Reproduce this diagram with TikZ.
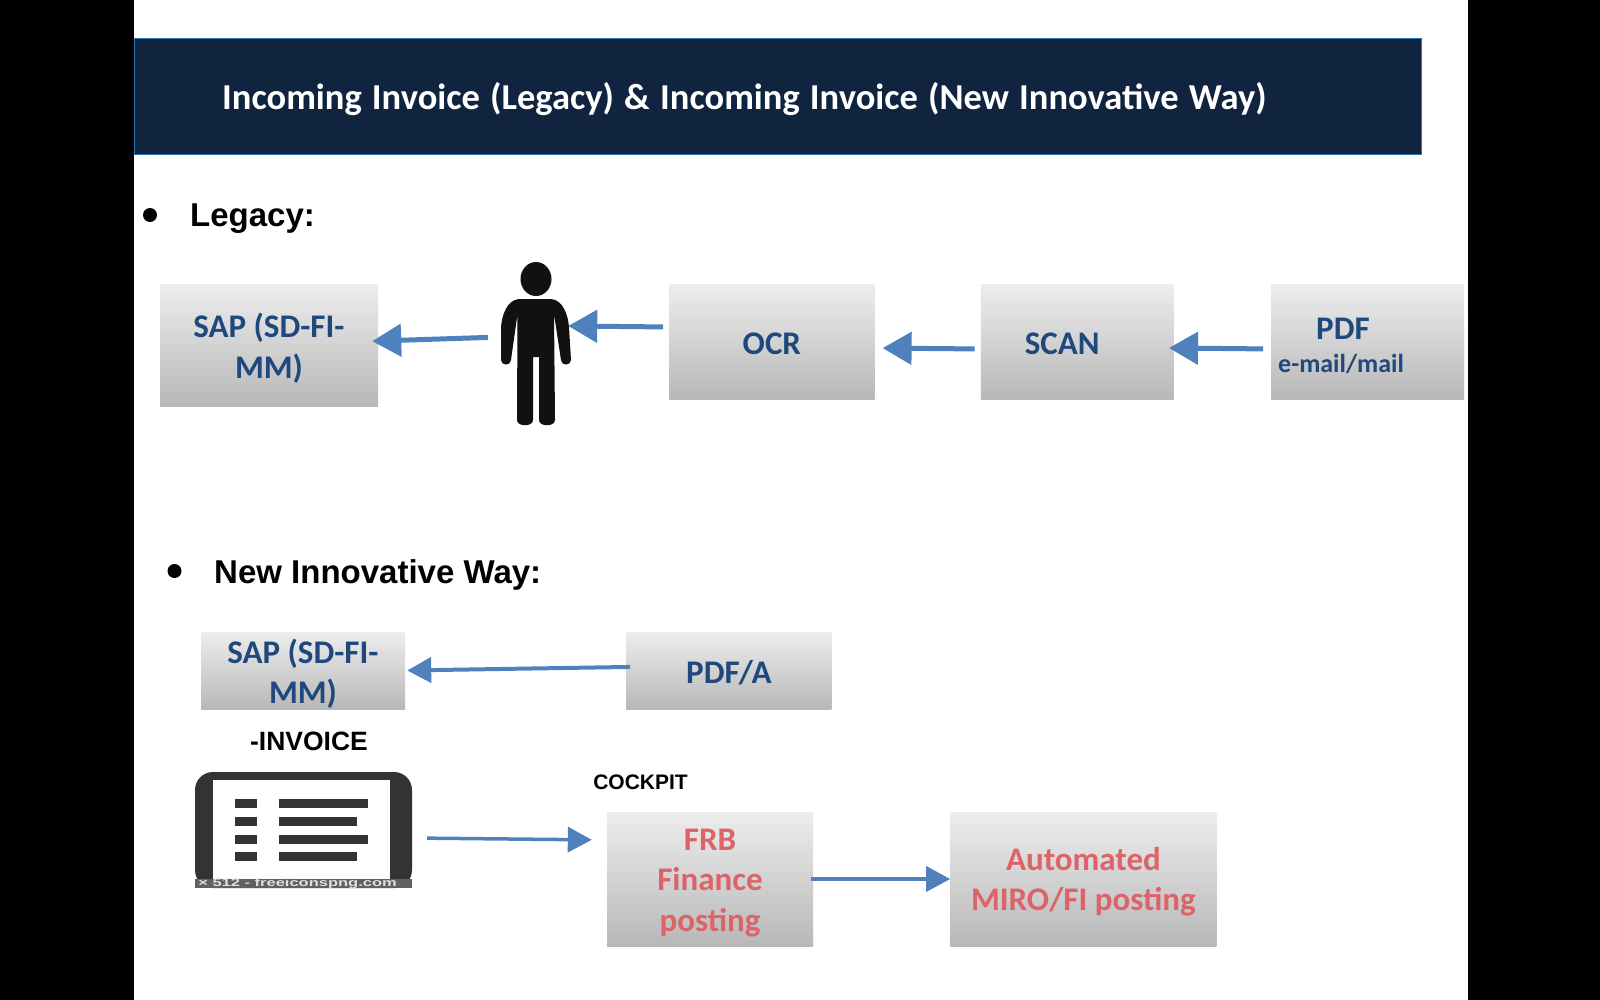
\documentclass[tikz,border=0pt]{standalone}
\usepackage{fontspec}
\setmainfont{Carlito}
\newfontfamily\headfont{Liberation Sans}
\usetikzlibrary{arrows.meta, positioning}
\definecolor{bannerblue}{HTML}{10243F}
\definecolor{bannerline}{HTML}{2E75B6}
\definecolor{flowblue}{HTML}{4F81BD}
\definecolor{boxblue}{HTML}{1F497D}
\definecolor{boxred}{HTML}{DC6468}
\definecolor{iconblack}{HTML}{333333}
\definecolor{personblack}{HTML}{111110}
\newcommand{\boxfont}{\fontsize{33}{40.5}\bfseries\selectfont}
\newcommand{\firstline}[1]{\rule{0pt}{#1}}

\begin{document}
\begin{tikzpicture}[x=1pt,y=-1pt,
      box node/.style={rectangle,inner sep=0pt,top color=black!7,bottom color=black!28,font=\boxfont,text=boxblue,align=center},
      one line/.style={box node,execute at begin node={\firstline{27pt}}},
      red node/.style={box node,text=boxred},
      head node/.style={anchor=west,inner sep=0pt,font=\headfont\fontsize{33}{40}\bfseries\selectfont},
      dot node/.style={circle,fill=black,inner sep=0pt,minimum size=14pt},
      flow/.style={-{Triangle[length=29pt,width=32pt]},line width=5pt,flowblue},
      thin flow/.style={-{Triangle[length=24pt,width=25pt]},line width=3.5pt,flowblue}]
  \useasboundingbox (0,0) rectangle (1600,1000);
  \fill[black] (0,0) rectangle (1600,1000);
  \fill[white] (134,0) rectangle (1468,1000);

  \node[rectangle,draw=bannerline,fill=bannerblue,text=white,anchor=north west,minimum width=1287pt,minimum height=116pt,inner xsep=0pt,text width=1287pt,align=left,font=\fontsize{36.5}{44}\bfseries\selectfont] (banner) at (134,38) {\spaceskip=10.2pt\firstline{33pt}\hspace*{88pt}Incoming Invoice (Legacy) \& Incoming Invoice (New Innovative Way)};

  % legacy row
  \node[dot node] (dot1) at (150,215) {};
  \node[head node] (legacy) at (190,218.5) {Legacy:};
  \node[box node,minimum width=218pt,minimum height=122pt] (sap1) at (269,345) {\firstline{31pt}SAP (SD-FI-\\MM)};
  \node[minimum width=70pt,minimum height=165pt,inner sep=0pt] (person) at (536,344.5) {};
  \node[one line,minimum width=205pt,minimum height=115pt] (ocr) [right=98pt of person,yshift=3pt] {OCR};
  \node[one line,minimum width=193pt,minimum height=115pt,text width=193pt,align=left] (scan) [right=106pt of ocr] {\hspace*{44pt}SCAN};
  \node[box node,minimum width=193pt,minimum height=115pt,text width=193pt,align=left] (pdf) [right=97pt of scan] {\firstline{30pt}\hspace*{45pt}PDF\\[-8pt]\hspace*{7pt}{\fontsize{26}{30}\bfseries\selectfont e-mail/mail}};

  % person
  \fill[personblack] (536,279) ellipse (15.5pt and 17pt);
  \fill[personblack] (519,299) -- (551,299) .. controls (563,300) and (568,315) .. (569,327) -- (571,360) .. controls (571,366) and (561,366) .. (561,360) -- (554,314) -- (555,420) .. controls (555,427) and (539,427) .. (539,420) -- (539,357) -- (533,357) -- (533,420) .. controls (533,427) and (517,427) .. (517,420) -- (517.5,314) -- (511,360) .. controls (511,366) and (501,366) .. (501,360) -- (501,327) .. controls (502,315) and (507,300) .. (519,299) -- cycle;

  \draw[flow,shorten <=13pt,shorten >=-6pt] ([yshift=7.5pt]person.west) -- ([yshift=4pt]sap1.east);
  \draw[flow,shorten <=6pt,shorten >=-3pt] ([yshift=14.5pt]ocr.west) -- ([yshift=18.5pt]person.east);
  \draw[flow,shorten <=6pt,shorten >=8pt] ([yshift=-7.5pt]scan.west) -- ([yshift=-6.5pt]ocr.east);
  \draw[flow,shorten <=8pt,shorten >=-5pt] ([yshift=-7.5pt]pdf.west) -- ([yshift=-6.5pt]scan.east);

  % new way row
  \node[dot node] (dot2) at (174.5,571) {};
  \node[head node] (newway) at (214,574.5) {New Innovative Way:};
  \node[box node,minimum width=204pt,minimum height=77pt] (sap2) at (303,670.5) {\firstline{31pt}SAP (SD-FI-\\MM)};
  \node[one line,minimum width=205pt,minimum height=77pt] (pdfa) [right=221pt of sap2] {PDF/A};
  \draw[thin flow,line width=4pt,shorten <=-4pt,shorten >=2pt] ([yshift=3.5pt]pdfa.west) -- (sap2.east);

  \node[inner sep=0pt,font=\headfont\fontsize{26.5}{30}\bfseries\selectfont] (invoice) at (309,741.5) {-INVOICE};
  \node[rectangle,fill=iconblack,rounded corners=18pt,minimum width=217pt,minimum height=116pt,inner sep=0pt] (icon) at (303.5,830) {};
  \fill[white] (213,780) rectangle (390,879);
  \foreach \y/\x in {799/368,817/357,835/368,852/357} {
    \fill[iconblack] (235,\y) rectangle (257,\y+8.5);
    \fill[iconblack] (279,\y) rectangle (\x,\y+8.5);
  }
  \fill[black!62] (195,879) rectangle (412,888);
  \node[inner sep=0pt,anchor=west,xscale=1.5,text=black!12,font=\headfont\fontsize{11}{11}\bfseries\selectfont] (credit) at (198,883.5) {× 512 - freeiconspng.com};

  \node[inner sep=0pt,font=\headfont\fontsize{21}{24}\bfseries\selectfont] (cockpit) at (640.5,782) {COCKPIT};
  \node[red node,minimum width=206pt,minimum height=134pt] (frb) at (710,879) {\firstline{29pt}FRB\\Finance\\posting};
  \node[red node,minimum width=266pt,minimum height=134pt] (miro) [right=137pt of frb] {\firstline{29pt}Automated\\MIRO/FI posting};
  \draw[thin flow,shorten <=15pt,shorten >=15pt] ([yshift=-8pt]icon.east) -- ([yshift=39pt]frb.west);
  \draw[thin flow,shorten <=-2pt] (frb.east) -- (miro.west);
\end{tikzpicture}
\end{document}
